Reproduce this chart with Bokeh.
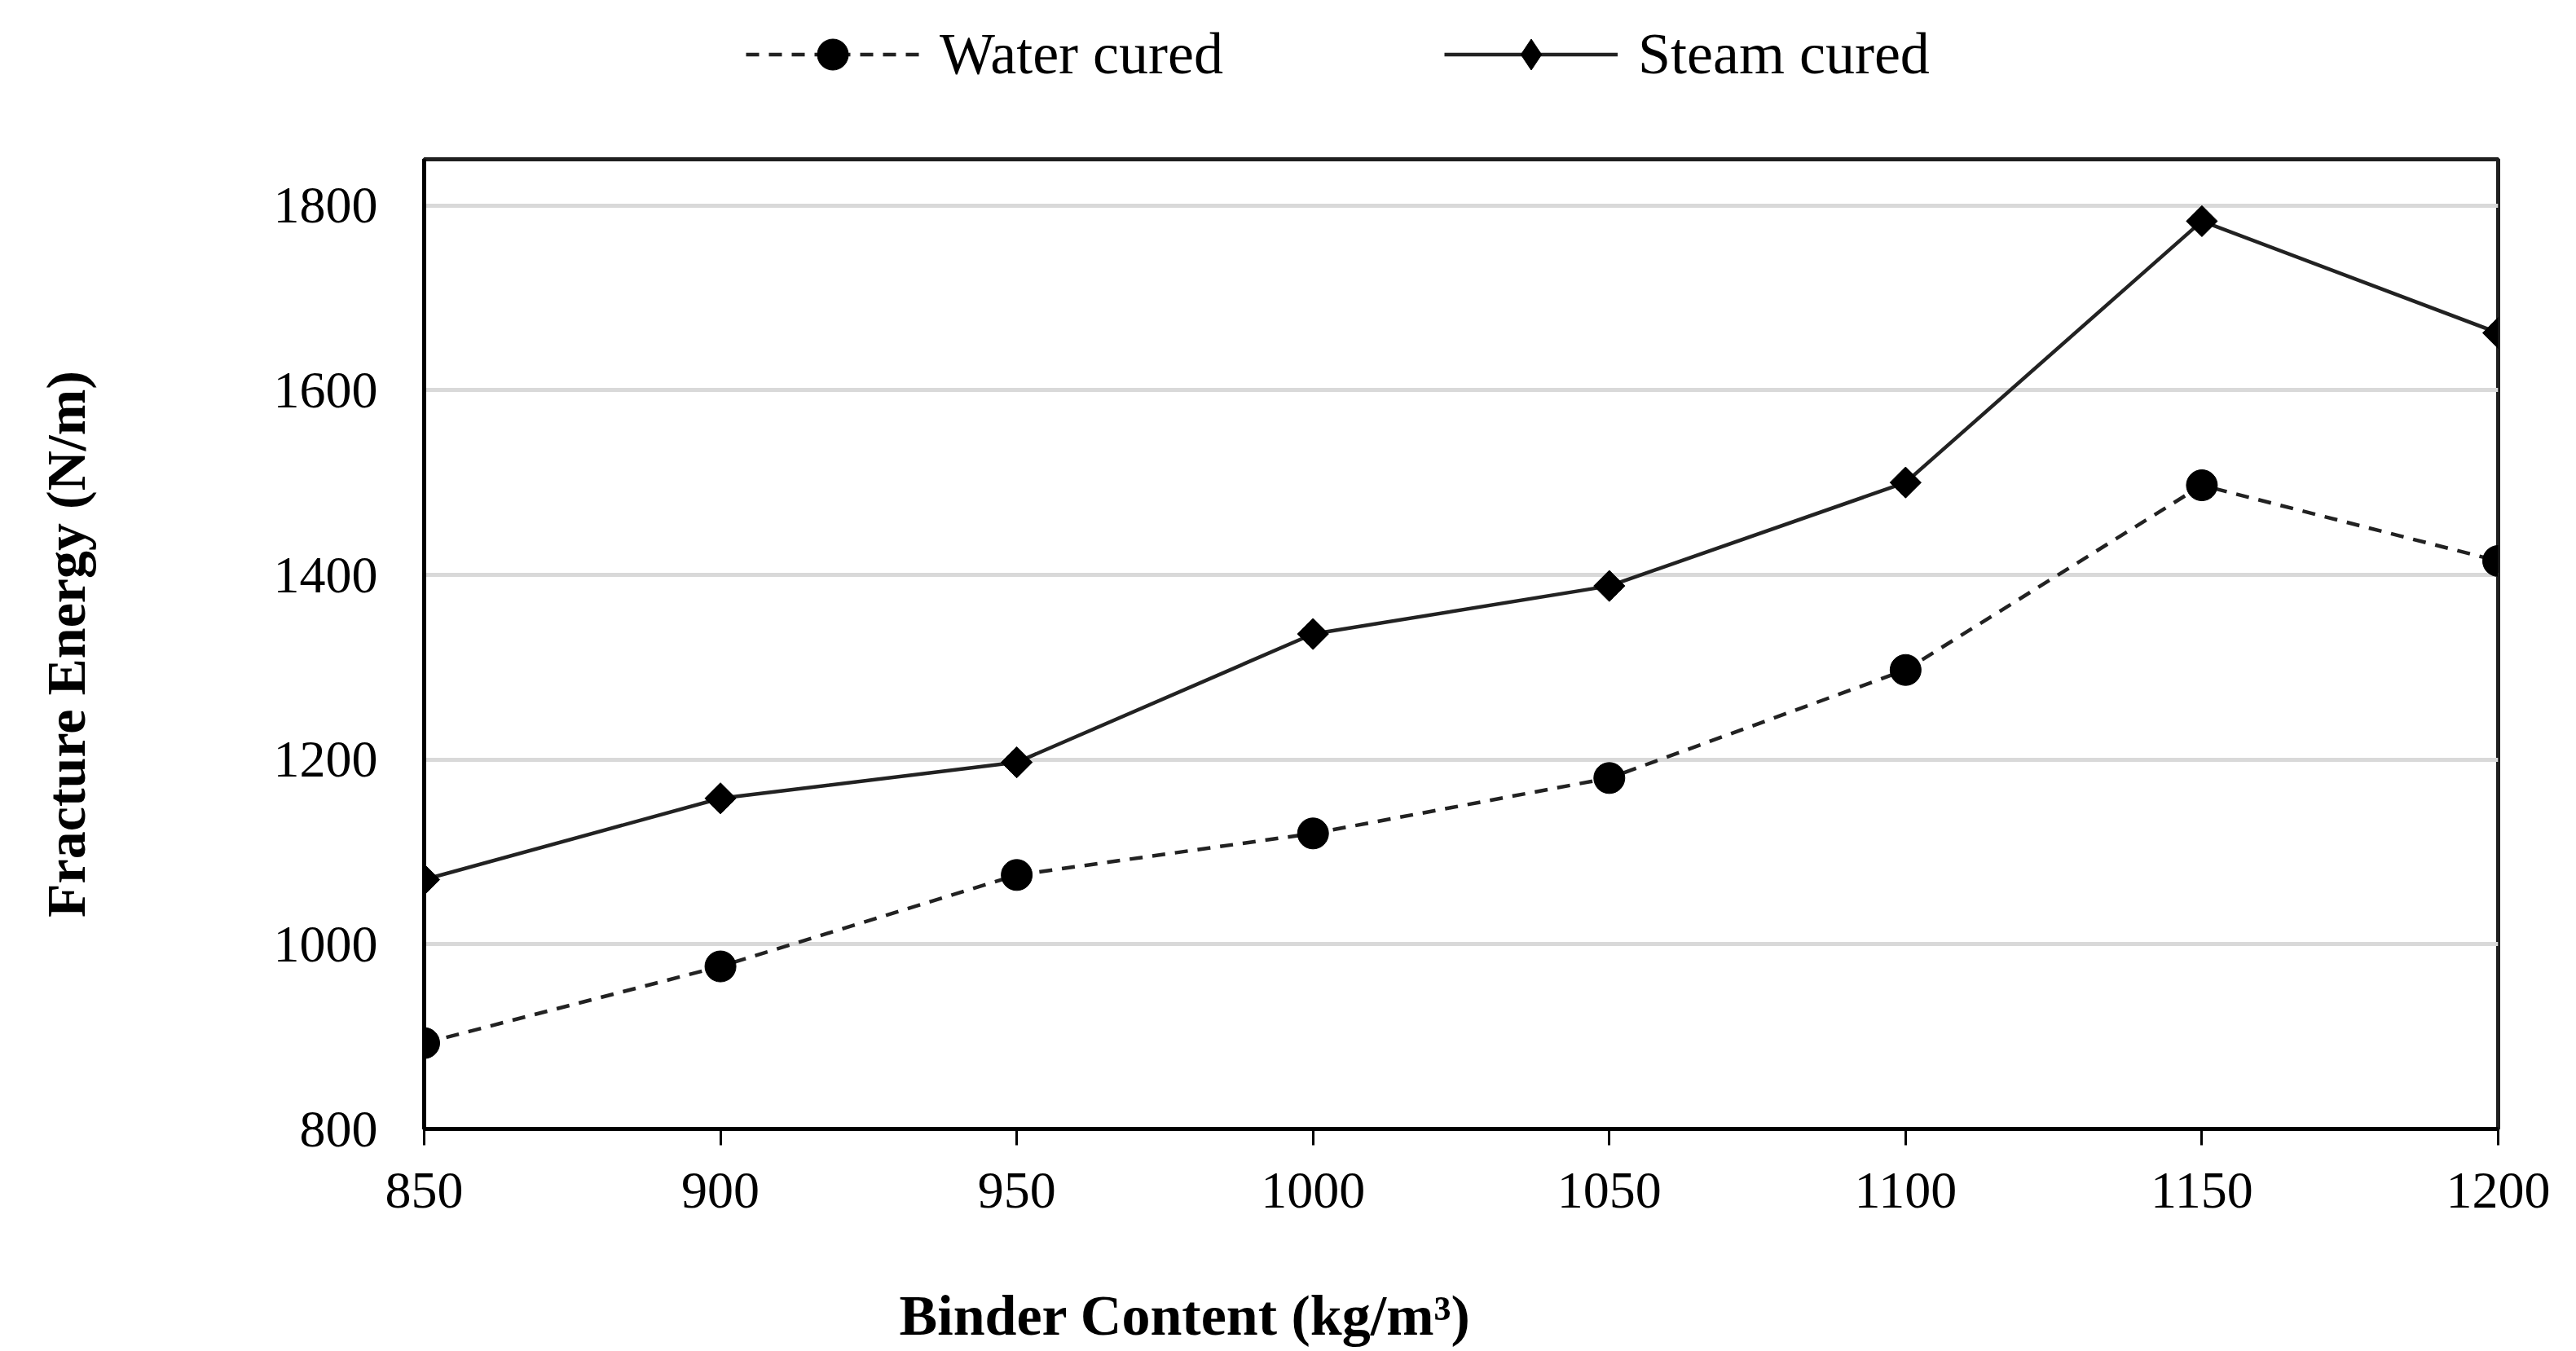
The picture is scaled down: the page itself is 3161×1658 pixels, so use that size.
import math
from bokeh.plotting import figure
from bokeh.layouts import column
from bokeh.models import (ColumnDataSource, FixedTicker, Legend, LegendItem, Label, Range1d)
from bokeh.embed import file_html
from bokeh.resources import INLINE

# ---- data ----
binder_content = [850, 900, 950, 1000, 1050, 1100, 1150, 1200]
water_cured = [893, 976, 1075, 1120, 1180, 1297, 1497, 1415]
steam_cured = [1070, 1158, 1197, 1336, 1388, 1500, 1783, 1662]
y_ticks = [800, 1000, 1200, 1400, 1600, 1800]
x_ticks = [850, 900, 950, 1000, 1050, 1100, 1150, 1200]

FONT = "Liberation Serif"
LINE = "#222222"

W, H = 3145, 1658
HT = 140                       # legend strip height
HM = 1385 - HT + 130           # main chart height
HB = H - HT - HM               # x-title strip height

src = ColumnDataSource(dict(x=binder_content, water=water_cured, steam=steam_cured))

# ---------------- main chart ----------------
p = figure(width=W, height=HM, output_backend="svg", toolbar_location=None,
           x_range=Range1d(850, 1200), y_range=Range1d(800, 1850),
           min_border_left=520, min_border_right=80,
           min_border_top=195 - HT, min_border_bottom=130)

p.background_fill_color = "white"
p.border_fill_color = "white"
p.outline_line_color = "#1f1f1f"
p.outline_line_width = 5

p.xgrid.visible = False
p.ygrid.grid_line_color = "#d9d9d9"
p.ygrid.grid_line_width = 5
p.ygrid.ticker = FixedTicker(ticks=y_ticks)

p.xaxis.ticker = FixedTicker(ticks=x_ticks)
p.yaxis.ticker = FixedTicker(ticks=y_ticks)
for ax in (p.xaxis[0], p.yaxis[0]):
    ax.axis_line_color = "black"
    ax.axis_line_width = 5
    ax.major_tick_line_color = "black"
    ax.major_tick_line_width = 3
    ax.minor_tick_line_color = None
    ax.major_label_text_font = FONT
    ax.major_label_text_font_size = "64px"
    ax.major_label_text_color = "black"
p.xaxis.major_tick_in = 0
p.xaxis.major_tick_out = 20
p.xaxis.major_label_standoff = 34
p.yaxis.major_tick_in = 0
p.yaxis.major_tick_out = 0
p.yaxis.major_label_standoff = 57

p.yaxis.axis_label = "Fracture Energy (N/m)"
p.yaxis.axis_label_text_font = FONT
p.yaxis.axis_label_text_font_size = "68px"
p.yaxis.axis_label_text_font_style = "bold"
p.yaxis.axis_label_text_color = "black"
p.yaxis.axis_label_standoff = 214

p.line("x", "water", source=src, line_color=LINE, line_width=4.5, line_dash="16 12")
p.scatter("x", "water", source=src, marker="circle", size=38,
          fill_color="black", line_color="black")
p.line("x", "steam", source=src, line_color=LINE, line_width=4.5)
p.scatter("x", "steam", source=src, marker="square", size=27, angle=math.pi / 4,
          fill_color="black", line_color="black")

# ---------------- legend strip ----------------
# its renderers use the same data, but its y range keeps them out of view;
# only the legend glyphs are seen.
top = figure(width=W, height=HT, output_backend="svg", toolbar_location=None,
             x_range=Range1d(850, 1200), y_range=Range1d(0, 1),
             min_border=0, min_border_left=0, min_border_right=0,
             min_border_top=0, min_border_bottom=0)
top.axis.visible = False
top.grid.visible = False
top.outline_line_color = None
top.background_fill_color = "white"
top.border_fill_color = "white"

l_wl = top.line("x", "water", source=src, line_color=LINE, line_width=4.5,
                line_dash="16 12")
l_wm = top.scatter("x", "water", source=src, marker="circle",
                   fill_color="black", line_color="black")
l_sl = top.line("x", "steam", source=src, line_color=LINE, line_width=4.5)
l_sm = top.scatter("x", "steam", source=src, marker="diamond",
                   fill_color="black", line_color="black")

legend = Legend(items=[LegendItem(label="Water cured", renderers=[l_wl, l_wm]),
                       LegendItem(label="Steam cured", renderers=[l_sl, l_sm])],
                location=(395, 26), orientation="horizontal",
                border_line_color=None, background_fill_alpha=0,
                padding=0, margin=0, spacing=271,
                glyph_width=213, glyph_height=95,
                label_standoff=25, label_text_font=FONT,
                label_text_font_size="72px", label_text_color="black")
top.add_layout(legend, "center")

# ---------------- x-title strip ----------------
bot = figure(width=W, height=HB, output_backend="svg", toolbar_location=None,
             x_range=Range1d(850, 1200), y_range=Range1d(0, 1),
             min_border=0, min_border_left=0, min_border_right=0,
             min_border_top=0, min_border_bottom=0)
bot.axis.visible = False
bot.grid.visible = False
bot.outline_line_color = None
bot.background_fill_color = "white"
bot.border_fill_color = "white"
bot.add_layout(Label(x=583, y=H - 1620 + 6, x_units="screen", y_units="screen",
                     text="Binder  Content (kg/m\u00b3)", text_font=FONT,
                     text_font_size="70px", text_font_style="bold",
                     text_color="black", text_baseline="alphabetic",
                     text_align="left"))

layout = column(top, p, bot, spacing=0)
open("out.html", "w").write(file_html(layout, INLINE))
